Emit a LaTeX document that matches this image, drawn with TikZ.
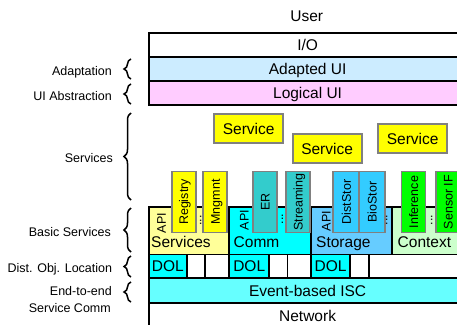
\documentclass[tikz,border=0pt]{standalone}
\usepackage{fontspec}
\setmainfont{Liberation Sans}
\usetikzlibrary{decorations.pathreplacing}
\definecolor{adaptc}{HTML}{CCECFF}
\definecolor{logc}{HTML}{FFCCFF}
\definecolor{svcbase}{HTML}{FFFF99}
\definecolor{yel}{HTML}{FFFF00}
\definecolor{cyanc}{HTML}{00FFFF}
\definecolor{storc}{HTML}{66CCFF}
\definecolor{ctxc}{HTML}{CCFFCC}
\definecolor{tealc}{HTML}{33CCCC}
\definecolor{blc}{HTML}{33CCFF}
\definecolor{grnc}{HTML}{00FF00}
\definecolor{evc}{HTML}{66FFFF}
\definecolor{subgray}{HTML}{808080}
\begin{document}
\begin{tikzpicture}[x=1pt,y=-1pt,
  bigfont/.style={font=\fontsize{15.5}{18}\selectfont, text height=11pt, text depth=0pt},
  layer/.style={draw=black, line width=1.8pt, anchor=north west, inner sep=0pt, minimum width=317.4pt, bigfont},
  cell/.style={draw=black, line width=1.8pt, anchor=north west, inner sep=0pt, minimum height=23.8pt, bigfont},
  sub/.style={draw=subgray, line width=1.8pt, rotate=90, inner sep=0pt, minimum width=61pt, minimum height=24pt, font=\fontsize{12.5}{14}\selectfont, text height=9pt, text depth=0pt},
  svc/.style={draw=subgray, line width=1.8pt, fill=yel, inner sep=0pt, minimum width=69pt, minimum height=29pt, anchor=north west, bigfont},
  side/.style={anchor=base east, inner sep=0pt, font=\fontsize{12.5}{14}\selectfont},
  rot/.style={rotate=90, inner sep=0pt, font=\fontsize{12.5}{14}\selectfont, text height=9pt, text depth=0pt},
  dotsv/.style={rotate=90, inner sep=0pt, anchor=base, font=\fontsize{12.5}{14}\selectfont},
  blabel/.style={anchor=base west, inner sep=0pt, font=\fontsize{15.5}{18}\selectfont},
  brc/.style={decorate, decoration={brace, amplitude=7pt}, line width=1.5pt}
]
\clip (0,0) rectangle (457,324);
\fill[white] (0,0) rectangle (457,324);

% top
\node[anchor=base, inner sep=0pt, font=\fontsize{15.5}{18}\selectfont] (user) at (306.7,21.5) {User};
\node[layer, fill=white, minimum height=24pt] (io) at (148,31.7) {I/O};
\node[layer, fill=adaptc, minimum height=24.3pt] (adapt) at (148,55.7) {Adapted UI};
\node[layer, fill=logc, minimum height=24pt] (logic) at (148,80) {Logical UI};

% services
\node[svc] (s1) at (213.3,113.3) {Service};
\node[svc] (s2) at (291.7,133.3) {Service};
\node[svc] (s3) at (377.3,123.3) {Service};

% basic services
\node[cell, fill=svcbase, minimum width=80pt, minimum height=47.8pt] (bsvc) at (148,205.7) {};
\node[cell, fill=cyanc, minimum width=82pt, minimum height=47.8pt] (bcomm) at (228,205.7) {};
\node[cell, fill=storc, minimum width=81pt, minimum height=47.8pt] (bstor) at (310,205.7) {};
\node[cell, fill=ctxc, minimum width=80pt, minimum height=47.8pt] (bctx) at (391,205.7) {};

\node[blabel] (lsvc) at (151,247.7) {Services};
\node[blabel] (lcomm) at (233.5,247.7) {Comm};
\node[blabel] (lstor) at (316,247.7) {Storage};
\node[blabel] (lctx) at (397.5,247.7) {Context};

\node[rot] (api1) at (161.3,223) {API};
\node[rot] (api2) at (244,220) {API};
\node[rot] (api3) at (326,221) {API};

\node[sub, fill=yel] (reg) at (183.6,202) {Registry};
\node[sub, fill=yel] (mng) at (215.3,202) {Mngmnt};
\node[sub, fill=tealc] (er) at (265,202) {ER};
\node[sub, fill=tealc] (strm) at (298.2,202) {Streaming};
\node[sub, fill=blc, minimum height=26pt] (dist) at (346.3,202) {DistStor};
\node[sub, fill=blc, minimum height=25.7pt] (bio) at (372.1,202) {BioStor};
\node[sub, fill=grnc] (inf) at (413.5,202) {Inference};
\node[sub, fill=grnc] (sens) at (448,202) {Sensor IF};

\node[dotsv] (d1) at (201.4,220.5) {...};
\node[dotsv] (d2) at (283,219) {...};
\node[dotsv] (d3) at (387.4,220) {...};
\node[dotsv] (d4) at (432.4,220) {...};

% DOL row
\node[cell, fill=cyanc, minimum width=37.7pt] (dol1) at (148,253.5) {DOL};
\node[cell, fill=white, minimum width=18.3pt] (e1) at (185.7,253.5) {};
\node[cell, fill=white, minimum width=24.3pt] (e2) at (204,253.5) {};
\node[cell, fill=cyanc, minimum width=40pt] (dol2) at (228.3,253.5) {DOL};
\node[cell, fill=white, minimum width=18.2pt] (e3) at (268.3,253.5) {};
\node[cell, fill=white, minimum width=23.5pt] (e4) at (286.5,253.5) {};
\node[cell, fill=cyanc, minimum width=39.3pt] (dol3) at (310,253.5) {DOL};
\node[cell, fill=white, minimum width=19pt] (e5) at (349.3,253.5) {};
\node[cell, fill=white, minimum width=100pt] (e6) at (368.3,253.5) {};

% bottom layers
\node[layer, fill=evc, minimum height=25pt] (isc) at (148,277.3) {Event-based ISC};
\node[layer, fill=white, minimum height=24.7pt] (net) at (148,302.3) {Network};

% side labels and braces
\node[side] (ladapt) at (112,75.3) {Adaptation};
\node[side] (lui) at (112,100) {UI Abstraction};
\node[side] (lserv) at (113,162.3) {Services};
\node[side] (lbasic) at (111,236.7) {Basic Services};
\node[side] (ldol) at (112.3,272.3) {Dist. Obj. Location};
\node[side] (le2e) at (112,295.7) {End-to-end};
\node[side] (lsc) at (111,312.3) {Service Comm};

\draw[brc] (131,79) -- (131,59);
\draw[brc] (131,104) -- (131,84);
\draw[brc] (131,200) -- (131,113);
\draw[brc] (131,252) -- (131,208);
\draw[brc] (131,277) -- (131,256);
\draw[brc] (131,302) -- (131,282);
\end{tikzpicture}
\end{document}
